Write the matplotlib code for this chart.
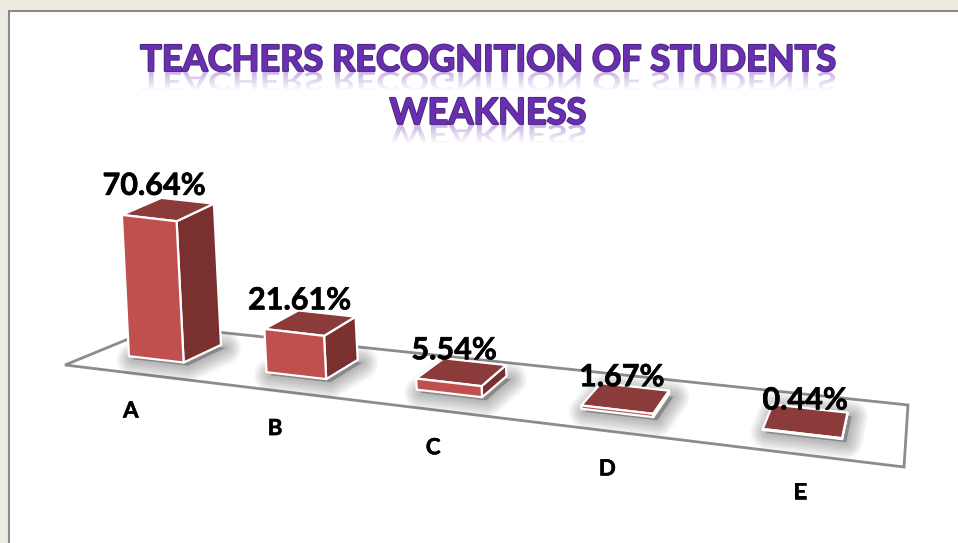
import numpy as np
import matplotlib
matplotlib.use("Agg")
import matplotlib.pyplot as plt
from matplotlib.patches import Polygon, Rectangle, PathPatch
from matplotlib.textpath import TextPath
from matplotlib.font_manager import FontProperties
from matplotlib.transforms import Affine2D
import matplotlib.patheffects as pe

categories = ["A", "B", "C", "D", "E"]
values = [70.64, 21.61, 5.54, 1.67, 0.44]
title_lines = ["TEACHERS RECOGNITION OF STUDENTS", "WEAKNESS"]

W, H = 958, 543
FONT = "Lato"
FRONT, SIDE, TOP = "#C0504D", "#7B3030", "#8C3B3B"

# floor plane corners in pixels: front-left, front-right, back-right, back-left
FLOOR = np.array([[65, 365], [904, 467], [908, 405], [160, 326]], float)
SRC = np.array([[0, 0], [5, 0], [5, 1], [0, 1]], float)


def homography(src, dst):
    A, b = [], []
    for (u, v), (x, y) in zip(src, dst):
        A.append([u, v, 1, 0, 0, 0, -u * x, -v * x])
        A.append([0, 0, 0, u, v, 1, -u * y, -v * y])
        b += [x, y]
    return np.append(np.linalg.solve(np.array(A), np.array(b)), 1).reshape(3, 3)


HOM = homography(SRC, FLOOR)
PX_PER_UNIT = 2.0
LEAN = 0.05


def project(u, v, z=0.0):
    p = HOM @ np.array([u, v, 1.0])
    x, y = p[0] / p[2], p[1] / p[2]
    h = z * PX_PER_UNIT
    return np.array([x - LEAN * h, y - h])


fig = plt.figure(figsize=(W / 100, H / 100), dpi=100, facecolor="#EEECE1")
ax = fig.add_axes([0, 0, 1, 1])
ax.set_xlim(0, W)
ax.set_ylim(H, 0)
ax.axis("off")

# slide frame
ax.add_patch(Rectangle((9, 11), W, H, fc="white", ec="#8A8A8A", lw=1.5, zorder=0))

# floor
ax.add_patch(Polygon(FLOOR, closed=True, fc="white", ec="#8C8C8C", lw=2.0, zorder=1,
                     joinstyle="miter"))

BAR_W = 0.205
V0, V1 = 0.30, 0.73
thick = [pe.withStroke(linewidth=0.45, foreground="black")]

for i, (cat, val) in enumerate(zip(categories, values)):
    uc = 0.46 + i * 1.005
    u0, u1 = uc - BAR_W, uc + BAR_W
    fl, fr, br, bl = [project(*c) for c in [(u0, V0), (u1, V0), (u1, V1), (u0, V1)]]
    tfl, tfr, tbr, tbl = [project(*c, val) for c in [(u0, V0), (u1, V0), (u1, V1), (u0, V1)]]

    # soft shadow on the floor
    base = np.array([fl, fr, br, bl]) + np.array([4, 3])
    for lw, a in zip(np.linspace(24, 1, 14), np.full(14, 0.03)):
        ax.add_patch(Polygon(base, closed=True, fc=(0.25, 0.25, 0.25, a),
                             ec=(0.25, 0.25, 0.25, a), lw=lw, joinstyle="round", zorder=2 + i))

    kw = dict(closed=True, ec="white", lw=1.6, joinstyle="round", zorder=3 + i)
    ax.add_patch(Polygon([fr, br, tbr, tfr], fc=SIDE, **kw))
    ax.add_patch(Polygon([tfl, tfr, tbr, tbl], fc=TOP, **kw))
    ax.add_patch(Polygon([fl, fr, tfr, tfl], fc=FRONT, **kw))

    top_x = (tfl[0] + tbr[0]) / 2
    top_y = tbl[1]
    ax.text(top_x - 14 + 3.5 * i, top_y - 3 + 2 * i, f"{val:.2f}%", ha="center", va="baseline",
            fontsize=22, fontweight="bold", family=FONT, color="black", zorder=20,
            path_effects=thick)
    lab = project(uc, 0)
    ax.text(lab[0] + 4, lab[1] + 45, cat, ha="center", va="baseline",
            fontsize=16, fontweight="bold", family=FONT, color="black", zorder=20,
            path_effects=thick)

# title with reflection
PURPLE = "#6A2FB0"
fp = FontProperties(family=FONT, weight="bold")
TSIZE_PT = 26
TSIZE_PX = TSIZE_PT * 100 / 72
for line, cx, base in zip(title_lines, [488, 488], [71, 124]):
    tp = TextPath((0, 0), line, size=TSIZE_PX, prop=fp)
    bb = tp.get_extents()
    # reflection (inverted y axis flips the glyph path downward)
    tr = Affine2D().scale(1, 0.72).translate(cx - bb.width / 2 - bb.x0, base + 1) + ax.transData
    grad = np.zeros((40, 2, 4))
    grad[..., :3] = matplotlib.colors.to_rgb(PURPLE)
    grad[..., 3] = np.linspace(0.38, 0.0, 40)[:, None]
    im = ax.imshow(grad, extent=[0, W, base + 20, base], aspect="auto", zorder=9,
                   interpolation="bilinear")
    patch = PathPatch(tp, transform=tr, fc="none", ec="none")
    ax.add_patch(patch)
    im.set_clip_path(patch)
    ax.text(cx, base, line, ha="center", va="baseline", fontsize=TSIZE_PT,
            fontweight="bold", family=FONT, color=PURPLE, zorder=10,
            path_effects=[pe.withStroke(linewidth=1.4, foreground="#4A2A80")])

ax.set_xlim(0, W)
ax.set_ylim(H, 0)
fig.savefig("out.png", dpi=100, facecolor=fig.get_facecolor())
